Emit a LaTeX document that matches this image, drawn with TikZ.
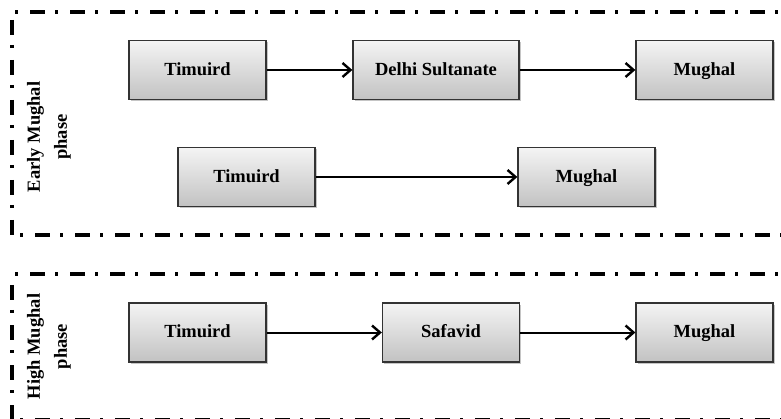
\documentclass[tikz,border=0pt]{standalone}
\usepackage{fontspec}
\setmainfont{Liberation Serif}
\usetikzlibrary{arrows.meta,shadows}
\definecolor{boxline}{HTML}{333333}
\definecolor{boxtop}{HTML}{F4F4F4}
\definecolor{boxbot}{HTML}{C2C2C2}
\tikzset{
  stagebox/.style={draw=boxline, line width=1.3pt, top color=boxtop, bottom color=boxbot,
    minimum width=137pt, minimum height=59pt, inner sep=0pt,
    text height=14pt, text depth=3.8pt,
    font=\bfseries\fontsize{18.5}{22}\selectfont,
    drop shadow={shadow xshift=1.5pt, shadow yshift=-2pt, fill=black!45, opacity=0.5}},
  flow/.style={line width=2pt, -{Straight Barb[length=8pt,width=14pt,line width=2.4pt]}},
  framedash/.style={line width=3.2pt, dash pattern=on 15pt off 10pt on 3pt off 12pt},
  phaselabel/.style={rotate=90, align=center, font=\bfseries\fontsize{18.5}{27}\selectfont, inner sep=0pt}
}
\begin{document}
\begin{tikzpicture}[x=1pt,y=-1pt]
\useasboundingbox (0,0) rectangle (781,419);
\clip (0,0) rectangle (781,419);
% frames
\coordinate (f1tl) at (12,12);
\coordinate (f1tr) at (800,12);
\coordinate (f1bl) at (12,235);
\coordinate (f1br) at (800,235);
\coordinate (f2tl) at (12,274);
\coordinate (f2tr) at (800,274);
\coordinate (f2bl) at (12,420);
\coordinate (f2br) at (800,420);
\draw[framedash, dash phase=22pt] (f1tl) -- (f1tr);
\draw[framedash, dash phase=32pt] (f1tl) -- (f1bl);
\draw[framedash, dash phase=17pt] (f1bl) -- (f1br);
\draw[framedash, dash phase=22pt] (f2tl) -- (f2tr);
\draw[framedash, dash phase=29pt] (f2tl) -- (f2bl);
\draw[framedash, dash phase=17pt] (f2bl) -- (f2br);
% labels
\node[phaselabel] (early) at (49,137) {Early Mughal\\phase};
\node[phaselabel] (high) at (49,346.5) {High Mughal\\phase};
% row 1
\node[stagebox] (t1) at (197.5,70) {Timuird};
\node[stagebox, minimum width=166pt] (d1) at (436,70) {Delhi Sultanate};
\node[stagebox] (m1) at (704.5,70) {Mughal};
% row 2
\node[stagebox] (t2) at (246.5,177) {Timuird};
\node[stagebox] (m2) at (586.5,177) {Mughal};
% row 3
\node[stagebox] (t3) at (197.5,332.5) {Timuird};
\node[stagebox] (s3) at (451,332.5) {Safavid};
\node[stagebox] (m3) at (704.5,332.5) {Mughal};
% arrows
\draw[flow] (t1) -- (d1);
\draw[flow] (d1) -- (m1);
\draw[flow] (t2) -- (m2);
\draw[flow] (t3) -- (s3);
\draw[flow] (s3) -- (m3);
\end{tikzpicture}
\end{document}
